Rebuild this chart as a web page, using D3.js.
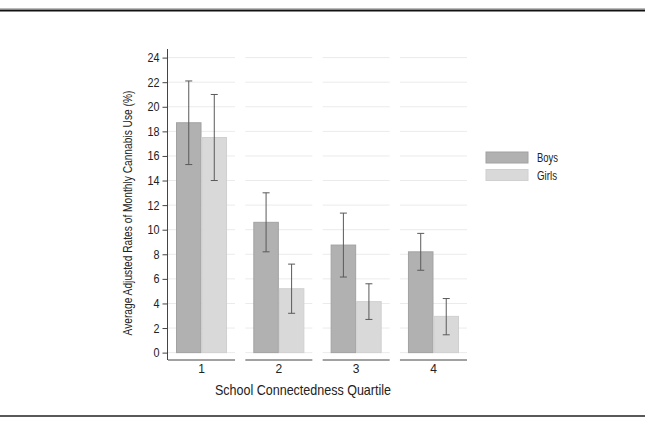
<!DOCTYPE html>
<html>
<head>
<meta charset="utf-8">
<script src="https://cdn.jsdelivr.net/npm/d3@7"></script>
<style>
  body { margin: 0; background: #fff; }
  svg { display: block; font-family: "Liberation Sans", Arial, sans-serif; }
</style>
</head>
<body>
<svg id="chart" width="645" height="424"></svg>
<script>
// data
const quartiles = ['1', '2', '3', '4']
const groups = ['Boys', 'Girls']
const boysMean = [18.7, 10.6, 8.75, 8.2]
const boysLow = [15.3, 8.2, 6.15, 6.7]
const boysHigh = [22.1, 13.0, 11.35, 9.7]
const girlsMean = [17.5, 5.2, 4.15, 2.95]
const girlsLow = [14.0, 3.2, 2.7, 1.45]
const girlsHigh = [21.0, 7.2, 5.6, 4.4]
const yTicks = d3.range(0, 25, 2)

const colors = { Boys: '#b1b1b1', Girls: '#d9d9d9' }
const strokes = { Boys: '#a2a2a2', Girls: '#d0d0d0' }

const rows = []
quartiles.forEach((q, i) => {
    rows.push({ q, g: 'Boys', mean: boysMean[i], low: boysLow[i], high: boysHigh[i] })
    rows.push({ q, g: 'Girls', mean: girlsMean[i], low: girlsLow[i], high: girlsHigh[i] })
})

const svg = d3.select('#chart')

// scales
const xScale = d3.scaleBand().domain(quartiles).range([168, 467]).paddingInner(0.133)
const inner = d3.scaleBand().domain(groups).range([8, xScale.bandwidth() - 8])
const yScale = d3.scaleLinear().domain([-0.6, 24.7]).range([360, 49])

// rules top & bottom
svg.append('line').attr('x1', 0).attr('x2', 645).attr('y1', 8.5).attr('y2', 8.5)
    .attr('stroke', '#bbb').attr('stroke-width', 1)
svg.append('line').attr('x1', 0).attr('x2', 645).attr('y1', 10.5).attr('y2', 10.5)
    .attr('stroke', '#111').attr('stroke-width', 2)
svg.append('line').attr('x1', 0).attr('x2', 645).attr('y1', 416).attr('y2', 416)
    .attr('stroke', '#222').attr('stroke-width', 1.5)

// panels
const panels = svg.selectAll('.panel').data(quartiles).join('g')
    .attr('class', 'panel')
    .attr('transform', d => `translate(${xScale(d)},0)`)

// grid lines per panel
panels.selectAll('.grid').data(yTicks).join('line')
    .attr('class', 'grid')
    .attr('x1', 0).attr('x2', xScale.bandwidth())
    .attr('y1', d => yScale(d)).attr('y2', d => yScale(d))
    .attr('stroke', '#ebebeb').attr('stroke-width', 1)

// bars
panels.selectAll('.bar').data(q => rows.filter(r => r.q === q)).join('rect')
    .attr('class', 'bar')
    .attr('x', d => inner(d.g) + 0.5)
    .attr('width', inner.bandwidth() - 1)
    .attr('y', d => yScale(d.mean))
    .attr('height', d => yScale(0) - yScale(d.mean))
    .attr('fill', d => colors[d.g])
    .attr('stroke', d => strokes[d.g])
    .attr('stroke-width', 1)

// error bars
const err = panels.selectAll('.err').data(q => rows.filter(r => r.q === q)).join('g')
    .attr('class', 'err')
    .attr('transform', d => `translate(${inner(d.g) + inner.bandwidth() / 2},0)`)
    .attr('stroke', '#5a5a5a').attr('stroke-width', 1)
err.append('line').attr('y1', d => yScale(d.low)).attr('y2', d => yScale(d.high))
err.append('line').attr('x1', -3.5).attr('x2', 3.5).attr('y1', d => yScale(d.high)).attr('y2', d => yScale(d.high))
err.append('line').attr('x1', -3.5).attr('x2', 3.5).attr('y1', d => yScale(d.low)).attr('y2', d => yScale(d.low))

// bottom axis line per panel
panels.append('line')
    .attr('x1', 0).attr('x2', xScale.bandwidth())
    .attr('y1', 360).attr('y2', 360)
    .attr('stroke', '#444').attr('stroke-width', 1)
panels.append('text')
    .attr('x', xScale.bandwidth() / 2).attr('y', 372.5)
    .attr('text-anchor', 'middle').attr('font-size', 12).attr('fill', '#222')
    .text(d => d)

// y axis
const yAxis = d3.axisLeft(yScale).tickValues(yTicks).tickSize(5).tickPadding(3)
const yAxisDraw = svg.append('g').attr('transform', 'translate(167.5,0)').call(yAxis)
yAxisDraw.select('.domain').attr('d', `M0,${yScale.range()[1]}V360`).attr('stroke', '#444')
yAxisDraw.selectAll('.tick line').attr('stroke', '#444')
yAxisDraw.selectAll('text').attr('font-size', 12.5).attr('fill', '#222')
    .style('font-family', '"Liberation Sans", Arial, sans-serif')
    .attr('textLength', d => d >= 10 ? 12 : 6).attr('lengthAdjust', 'spacingAndGlyphs')

// axis titles
svg.append('text')
    .attr('transform', 'translate(132,213) rotate(-90)')
    .attr('text-anchor', 'middle').attr('font-size', 12.5).attr('fill', '#222')
    .attr('textLength', 245).attr('lengthAdjust', 'spacingAndGlyphs')
    .text('Average Adjusted Rates of Monthly Cannabis Use (%)')
svg.append('text')
    .attr('x', 303).attr('y', 394.5)
    .attr('text-anchor', 'middle').attr('font-size', 14.5).attr('fill', '#222')
    .attr('textLength', 176).attr('lengthAdjust', 'spacingAndGlyphs')
    .text('School Connectedness Quartile')

// legend
const legend = svg.append('g').attr('transform', 'translate(486,152)')
const li = legend.selectAll('g').data(groups).join('g')
    .attr('transform', (d, i) => `translate(0,${i * 17.5})`)
li.append('rect').attr('width', 42).attr('height', 11)
    .attr('fill', d => colors[d]).attr('stroke', d => strokes[d])
li.append('text').attr('x', 51).attr('y', 10)
    .attr('font-size', 12).attr('fill', '#222')
    .attr('textLength', d => d === 'Boys' ? 21 : 20).attr('lengthAdjust', 'spacingAndGlyphs')
    .text(d => d)
</script>
</body>
</html>
